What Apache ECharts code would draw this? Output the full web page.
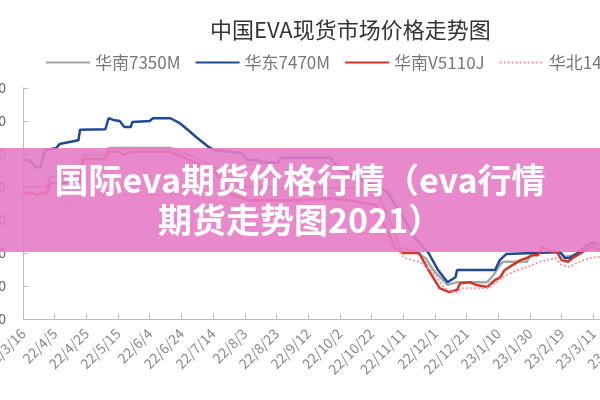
<!DOCTYPE html>
<html>
<head>
<meta charset="utf-8">
<script src="https://cdn.jsdelivr.net/npm/echarts@6/dist/echarts.min.js"></script>
<style>
html, body { margin: 0; padding: 0; overflow: hidden; background: #fff; }
#main { width: 700px; height: 400px; }
</style>
</head>
<body>
<div id="main"></div>
<script>
// daily categories 22/3/16 .. 23/3/31, labelled every 20 days
var startDay = new Date(2022, 2, 16);
var dayCount = 381;
var categories = [];
for (var i = 0; i < dayCount; i++) {
    var d = new Date(startDay.getFullYear(), startDay.getMonth(), startDay.getDate() + i);
    categories.push(String(d.getFullYear()).slice(2) + '/' + (d.getMonth() + 1) + '/' + d.getDate());
}

var seriesNames = ['华南7350M', '华东7470M', '华南V5110J', '华北14J'];

// [date, price] at the turning points of each line
var huanan7350M = [
    ['22/3/16', 24000], ['22/3/31', 24000], ['22/4/2', 24900], ['22/4/21', 25000],
    ['22/4/23', 26900], ['22/5/7', 26900], ['22/5/9', 27550], ['22/6/17', 27550],
    ['22/6/26', 27100], ['22/7/6', 26450], ['22/7/15', 25700], ['22/7/26', 24350],
    ['22/8/6', 24000], ['22/9/7', 23900], ['22/10/8', 23900], ['22/10/25', 23750],
    ['22/11/3', 20800], ['22/11/9', 18450], ['22/11/17', 18250], ['22/11/25', 17550],
    ['22/11/30', 16450], ['22/12/9', 15100], ['22/12/15', 15350], ['23/1/3', 15350],
    ['23/1/7', 16000], ['23/1/11', 16900], ['23/1/13', 17200], ['23/1/28', 17200],
    ['23/1/31', 18000], ['23/2/18', 18100], ['23/2/21', 17650], ['23/2/25', 17750],
    ['23/3/2', 17900], ['23/3/9', 18650], ['23/3/15', 18750]
];
var huadong7470M = [
    ['22/3/16', 26450], ['22/3/20', 26450], ['22/3/24', 25800], ['22/3/27', 25800],
    ['22/3/30', 27350], ['22/4/6', 27550], ['22/4/8', 27900], ['22/4/20', 28250],
    ['22/4/21', 29200], ['22/5/7', 29250], ['22/5/9', 30250], ['22/5/12', 30100],
    ['22/5/16', 30000], ['22/5/19', 29450], ['22/5/23', 29450], ['22/5/24', 29900],
    ['22/6/4', 30000], ['22/6/6', 30250], ['22/6/17', 30250], ['22/6/23', 29800],
    ['22/6/28', 29200], ['22/7/4', 28450], ['22/7/11', 27650], ['22/7/15', 27350],
    ['22/7/26', 27200], ['22/8/1', 27100], ['22/8/5', 26450], ['22/8/11', 26450],
    ['22/8/14', 26250], ['22/8/24', 26200], ['22/8/26', 26650], ['22/9/26', 26650],
    ['22/10/2', 25550], ['22/10/13', 24900], ['22/10/18', 24350], ['22/10/25', 24200],
    ['22/11/1', 23550], ['22/11/6', 22350], ['22/11/12', 21000], ['22/11/18', 19450],
    ['22/11/27', 18000], ['22/12/3', 16450], ['22/12/9', 15350], ['22/12/14', 15800],
    ['22/12/15', 16450], ['23/1/8', 16450], ['23/1/11', 17350], ['23/1/15', 17900],
    ['23/2/1', 18000], ['23/2/18', 18100], ['23/2/21', 17550], ['23/2/24', 17550],
    ['23/3/1', 18000], ['23/3/9', 18900], ['23/3/12', 18900], ['23/3/15', 18750]
];
var huananV5110J = [
    ['22/3/16', 23450], ['22/3/22', 23450], ['22/3/25', 23250], ['22/3/27', 23450],
    ['22/3/31', 23450], ['22/4/2', 24350], ['22/4/21', 24450], ['22/4/23', 26550],
    ['22/5/7', 26550], ['22/5/9', 27200], ['22/5/16', 27200], ['22/5/18', 26900],
    ['22/5/21', 27100], ['22/5/26', 27200], ['22/6/17', 27200], ['22/6/26', 26650],
    ['22/7/6', 26000], ['22/7/15', 25350], ['22/7/26', 23250], ['22/8/6', 22800],
    ['22/9/7', 22800], ['22/9/26', 22950], ['22/10/8', 22800], ['22/10/25', 22350],
    ['22/10/30', 20550], ['22/11/6', 18450], ['22/11/11', 18000], ['22/11/21', 18000],
    ['22/11/27', 16450], ['22/12/4', 14800], ['22/12/10', 14450], ['22/12/15', 14650],
    ['22/12/17', 15250], ['22/12/23', 15350], ['22/12/27', 15100], ['23/1/3', 14900],
    ['23/1/8', 15550], ['23/1/11', 15750], ['23/1/14', 16450], ['23/1/19', 16900],
    ['23/1/24', 17350], ['23/1/28', 17550], ['23/2/1', 17800], ['23/2/4', 17800],
    ['23/2/7', 18550], ['23/2/11', 18200], ['23/2/16', 18100], ['23/2/19', 17350],
    ['23/2/23', 17200], ['23/2/26', 17550], ['23/3/1', 17800], ['23/3/6', 18250],
    ['23/3/11', 18550], ['23/3/15', 18250]
];
var huabei14J = [
    ['22/3/16', 21700], ['22/3/22', 21550], ['22/3/29', 21000], ['22/4/2', 21650],
    ['22/4/8', 21650], ['22/4/13', 22450], ['22/4/19', 22550], ['22/4/22', 23200],
    ['22/5/10', 23200], ['22/6/23', 23300], ['22/7/6', 22900], ['22/7/15', 22650],
    ['22/7/31', 22350], ['22/8/19', 21350], ['22/9/7', 21000], ['22/10/2', 20250],
    ['22/10/27', 19550], ['22/11/6', 18450], ['22/11/12', 17550], ['22/11/21', 17200],
    ['22/11/30', 16250], ['22/12/7', 14800], ['22/12/14', 14350], ['22/12/18', 14800],
    ['23/1/3', 14800], ['23/1/8', 15250], ['23/1/14', 15900], ['23/1/22', 16450],
    ['23/1/30', 16800], ['23/2/5', 17200], ['23/2/15', 17550], ['23/2/19', 16900],
    ['23/2/24', 16750], ['23/3/2', 17200], ['23/3/9', 17550], ['23/3/15', 17650]
];

var chart = echarts.init(document.getElementById('main'));
var font = 'Noto Sans CJK SC';

var option = {
    animation: false,
    textStyle: { fontFamily: font },
    color: ['#a6a6a6', '#1f4a92', '#d2362a', '#f29aa6'],
    title: {
        text: '中国EVA现货市场价格走势图',
        left: 205,
        top: 14,
        textStyle: { color: '#333', fontSize: 22, fontWeight: 'normal', fontFamily: font }
    },
    legend: {
        left: 40,
        top: 49,
        itemWidth: 44,
        itemHeight: 14,
        itemGap: 14,
        itemStyle: { opacity: 0 },
        textStyle: { color: '#777', fontSize: 17 },
        data: seriesNames
    },
    grid: { left: 23, right: 75, top: 88, bottom: 81, containLabel: false, outerBoundsMode: 'none' },
    xAxis: {
        type: 'category',
        boundaryGap: false,
        data: categories,
        axisLine: { lineStyle: { color: '#bbb' } },
        axisTick: { inside: true, interval: 19, length: 5, lineStyle: { color: '#bbb' } },
        axisLabel: { interval: 19, rotate: 45, margin: 12, color: '#8a8a8a', fontSize: 14 },
        splitLine: { show: false }
    },
    yAxis: {
        type: 'value',
        min: 12000,
        max: 33000,
        interval: 3000,
        axisLine: { show: true, lineStyle: { color: '#bbb' } },
        axisTick: { show: true, inside: true, length: 5, lineStyle: { color: '#bbb' } },
        axisLabel: { margin: 17, color: '#666', fontSize: 14 },
        splitLine: { show: false }
    },
    series: [
        { name: seriesNames[0], type: 'line', symbol: 'none', data: huanan7350M, lineStyle: { width: 2.5 } },
        { name: seriesNames[1], type: 'line', symbol: 'none', data: huadong7470M, lineStyle: { width: 2.5 } },
        { name: seriesNames[2], type: 'line', symbol: 'none', data: huananV5110J, lineStyle: { width: 2.5 } },
        { name: seriesNames[3], type: 'line', symbol: 'none', data: huabei14J, lineStyle: { width: 2, type: 'dotted' } }
    ],
    graphic: [
        {
            type: 'rect',
            z: 100,
            shape: { x: 0, y: 148, width: 700, height: 104 },
            style: { fill: 'rgba(230,124,198,0.9)' }
        },
        {
            type: 'text',
            z: 101,
            x: 300,
            y: 200,
            style: {
                text: '国际eva期货价格行情（eva行情\n期货走势图2021）',
                fill: '#fff',
                font: 'bold 34px "Noto Sans CJK SC"',
                textAlign: 'center',
                textVerticalAlign: 'middle',
                lineHeight: 40
            }
        }
    ]
};
chart.setOption(option);
</script>
</body>
</html>
